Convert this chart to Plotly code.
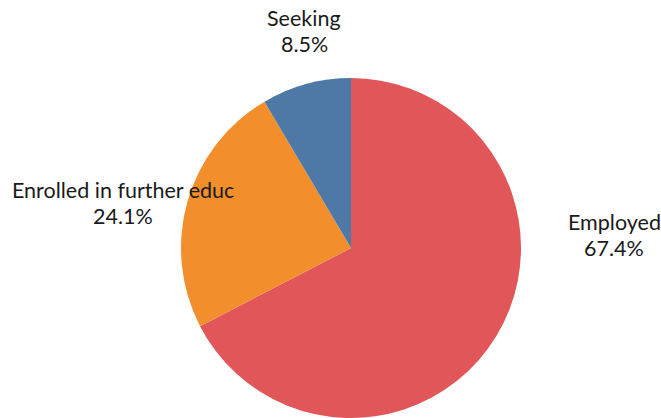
import plotly.graph_objects as go

categories = ["Employed", "Enrolled in further educ", "Seeking"]
values = [67.4, 24.1, 8.5]
colors = ["#E15759", "#F28E2B", "#4E79A7"]
label_pos = {"Employed": (614, 235), "Enrolled in further educ": (123, 203), "Seeking": (304, 31)}

W, H = 661, 418
fig = go.Figure(go.Pie(
    labels=categories, values=values, sort=False, direction="clockwise", rotation=0,
    marker=dict(colors=colors, line=dict(color="white", width=0)),
    textinfo="none", hoverinfo="label+percent", showlegend=False,
    domain=dict(x=[181 / W, 521 / W], y=[0, 1 - 78 / H]),
))
font = dict(family="Lato", size=21.5, color="#1a1a1a")
for c, v in zip(categories, values):
    x, y = label_pos[c]
    for txt, yy in ((c, y - 13), (f"{v}%", y + 13)):
        fig.add_annotation(x=x / W, y=1 - yy / H, xref="paper", yref="paper",
                           xanchor="center", yanchor="middle",
                           text=txt, showarrow=False, align="center", font=font)
fig.update_layout(width=W, height=H, margin=dict(l=0, r=0, t=0, b=0),
                  paper_bgcolor="white", plot_bgcolor="white")
fig.write_html("out.html", config={"displayModeBar": False},
               post_script="document.body.style.margin='0';")
